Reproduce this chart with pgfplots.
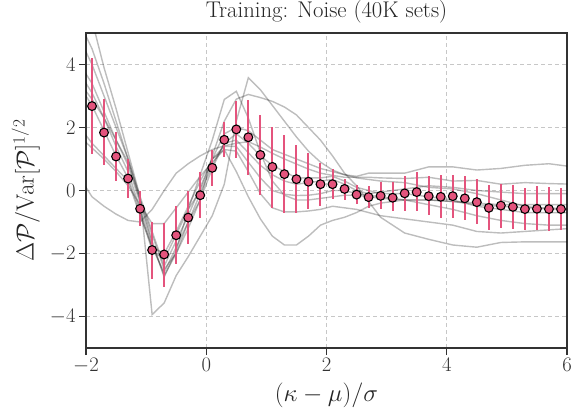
\documentclass[border=0pt]{standalone}
\usepackage{pgfplots}
\pgfplotsset{compat=1.18}
\usepackage{pgfplotstable}
\definecolor{pk}{RGB}{228,84,125}
\definecolor{frame}{RGB}{50,50,50}

\pgfplotstableread{
x y ep em
-1.9 2.68 1.53 1.52
-1.7 1.84 1.05 1.03
-1.5 1.08 0.78 0.78
-1.3 0.38 0.62 0.61
-1.1 -0.58 0.56 0.54
-0.9 -1.89 0.89 0.92
-0.7 -2.03 1.01 1.02
-0.5 -1.42 0.93 0.91
-0.3 -0.86 0.85 0.84
-0.1 -0.15 0.73 0.72
0.1 0.72 0.57 0.59
0.3 1.61 0.55 0.56
0.5 1.94 0.89 0.90
0.7 1.69 1.18 1.19
0.9 1.13 1.26 1.27
1.1 0.75 1.27 1.30
1.3 0.52 1.23 1.22
1.5 0.36 1.08 1.09
1.7 0.28 0.90 0.86
1.9 0.20 0.66 0.69
2.1 0.20 0.48 0.48
2.3 0.05 0.32 0.34
2.5 -0.13 0.31 0.29
2.7 -0.21 0.35 0.34
2.9 -0.17 0.43 0.41
3.1 -0.23 0.49 0.43
3.3 -0.09 0.56 0.57
3.5 -0.05 0.63 0.61
3.7 -0.18 0.65 0.61
3.9 -0.20 0.70 0.67
4.1 -0.18 0.68 0.69
4.3 -0.25 0.70 0.70
4.5 -0.37 0.72 0.70
4.7 -0.55 0.73 0.71
4.9 -0.48 0.69 0.70
5.1 -0.52 0.70 0.71
5.3 -0.59 0.68 0.67
5.5 -0.58 0.72 0.68
5.7 -0.59 0.70 0.70
5.9 -0.59 0.68 0.67
}\markdata

\pgfplotstableread{
x l1 l2 l3 l4 l5 l6 l7 l8 l9 l10
-2.1 7.0 0.4 1.7 3.4 5.3 4.8 4.0 3.7 3.3 2.0
-1.9 5.4 -0.2 1.35 2.9 4.5 4.0 3.4 3.1 2.7 1.5
-1.7 3.9 -0.5 1.0 2.3 3.4 3.0 2.5 2.3 1.9 1.1
-1.5 2.6 -0.75 0.6 1.6 2.2 2.0 1.6 1.4 1.1 0.7
-1.3 1.2 -0.95 0.15 0.9 1.0 1.0 0.8 0.6 0.4 0.3
-1.1 -0.2 -1.0 -0.45 -0.3 -0.3 -0.2 -0.4 -0.6 -0.7 -0.8
-0.9 -3.94 -0.6 -1.05 -1.4 -1.6 -1.3 -1.7 -1.8 -1.9 -1.8
-0.7 -3.57 0.0 -1.05 -2.5 -2.75 -2.4 -2.7 -2.6 -2.2 -2.0
-0.5 -2.7 0.55 -0.55 -2.0 -1.9 -1.6 -2.0 -1.8 -1.4 -1.3
-0.3 -2.1 0.85 -0.05 -1.0 -0.6 -0.8 -1.2 -1.0 -0.6 -0.5
-0.1 -1.45 1.1 0.45 -0.3 0.5 0.1 -0.3 -0.1 0.0 0.3
0.1 -0.8 1.3 0.9 1.1 1.6 1.0 0.7 0.8 1.0 1.0
0.3 0.2 1.42 1.3 2.2 2.89 1.8 1.5 1.5 1.4 1.3
0.5 2.2 1.5 0.6 2.9 3.15 2.0 1.8 1.6 1.4 1.25
0.7 3.58 1.55 -0.2 3.05 2.3 1.9 1.5 1.2 0.9 0.6
0.9 3.2 1.38 -0.9 2.95 1.2 1.6 1.1 0.8 0.4 -0.1
1.1 2.7 1.18 -1.45 2.83 0.3 1.3 0.8 0.5 0.0 -0.55
1.3 2.2 1.0 -1.73 2.65 -0.15 1.15 0.6 0.3 -0.12 -0.68
1.5 1.7 0.84 -1.73 2.4 -0.3 1.0 0.4 0.2 -0.16 -0.68
1.7 1.25 0.68 -1.45 2.0 -0.3 0.85 0.4 0.25 -0.15 -0.65
1.9 0.9 0.55 -1.1 1.6 -0.25 0.7 0.4 0.3 -0.1 -0.6
2.1 0.65 0.48 -0.95 1.1 -0.2 0.6 0.45 0.35 0.0 -0.5
2.3 0.5 0.42 -0.85 0.55 -0.15 0.5 0.3 0.2 0.0 -0.55
2.5 0.45 0.42 -0.7 0.15 -0.15 0.4 0.1 0.0 -0.1 -0.6
2.7 0.55 0.42 -0.5 -0.35 -0.2 0.35 0.0 -0.1 -0.15 -0.7
2.9 0.55 0.4 -0.4 -0.85 -0.25 0.3 -0.1 -0.05 -0.2 -0.8
3.3 0.55 0.38 -0.3 -1.35 -0.3 0.25 -0.1 0.05 -0.3 -0.9
3.7 0.75 0.42 -0.3 -1.55 -0.3 0.1 -0.2 0.15 -0.45 -1.0
4.1 0.75 0.3 -0.35 -1.73 -0.35 0.05 -0.3 0.1 -0.6 -1.1
4.5 0.65 0.32 -0.45 -1.8 -0.4 -0.1 -0.5 0.0 -0.8 -1.3
4.9 0.7 0.2 -0.5 -1.65 -0.45 -0.3 -0.6 -0.05 -0.95 -1.35
5.3 0.8 0.25 -0.55 -1.63 -0.45 -0.5 -0.7 -0.1 -1.05 -1.3
5.7 0.85 0.22 -0.55 -1.63 -0.45 -0.6 -0.7 -0.1 -1.1 -1.25
6.1 0.75 0.2 -0.6 -1.63 -0.45 -0.6 -0.7 -0.1 -1.1 -1.2
}\linesdata

\begin{document}
\begin{tikzpicture}
\begin{axis}[
  scale only axis, width=481bp, height=315bp,
  xmin=-2, xmax=6, ymin=-5, ymax=5,
  xtick={-2,0,2,4,6}, ytick={-4,-2,0,2,4},
  axis line style={frame, line width=1.3bp},
  tick align=outside, tick pos=left,
  major tick length=7bp,
  every tick/.style={frame, line width=1.2bp},
  grid=major,
  major grid style={black!22, line width=0.9bp, dash pattern=on 4bp off 3bp},
  tick label style={font=\fontsize{20}{24}\selectfont, text=black!80},
  label style={font=\fontsize{23.5}{28}\selectfont, text=black!85},
  title style={font=\fontsize{22.8}{27}\selectfont, text=black!85, at={(axis description cs:0.5,1)}, anchor=base, yshift=10bp},
  title={Training: Noise (40K sets)},
  xlabel={$(\kappa-\mu)/\sigma$},
  ylabel={$\Delta\mathcal{P}/\mathrm{Var}[\mathcal{P}]^{1/2}$},
  xlabel style={at={(axis description cs:0.5,-0.151)}, anchor=center},
  ylabel style={at={(axis description cs:-0.125,0.5)}, anchor=center},
]
\pgfplotsinvokeforeach{1,...,10}{
  \addplot[no marks, black, opacity=0.26, line width=1.4bp] table[x=x, y=l#1]{\linesdata};
}
\addplot[draw=none, mark=none, forget plot,
  error bars/.cd, y dir=both, y explicit,
  error bar style={draw=pk, opacity=1, line width=2bp}, error mark=none]
  table[x=x, y=y, y error plus=ep, y error minus=em]{\markdata};
\addplot[only marks, mark=*, mark size=4.4bp,
  mark options={fill=pk, draw=black, line width=1.1bp}]
  table[x=x, y=y]{\markdata};
\end{axis}
\pgfresetboundingbox
\path[use as bounding box] ([shift={(-86bp,-66bp)}]current axis.south west) rectangle ([shift={(6bp,33bp)}]current axis.north east);
\end{tikzpicture}
\end{document}
